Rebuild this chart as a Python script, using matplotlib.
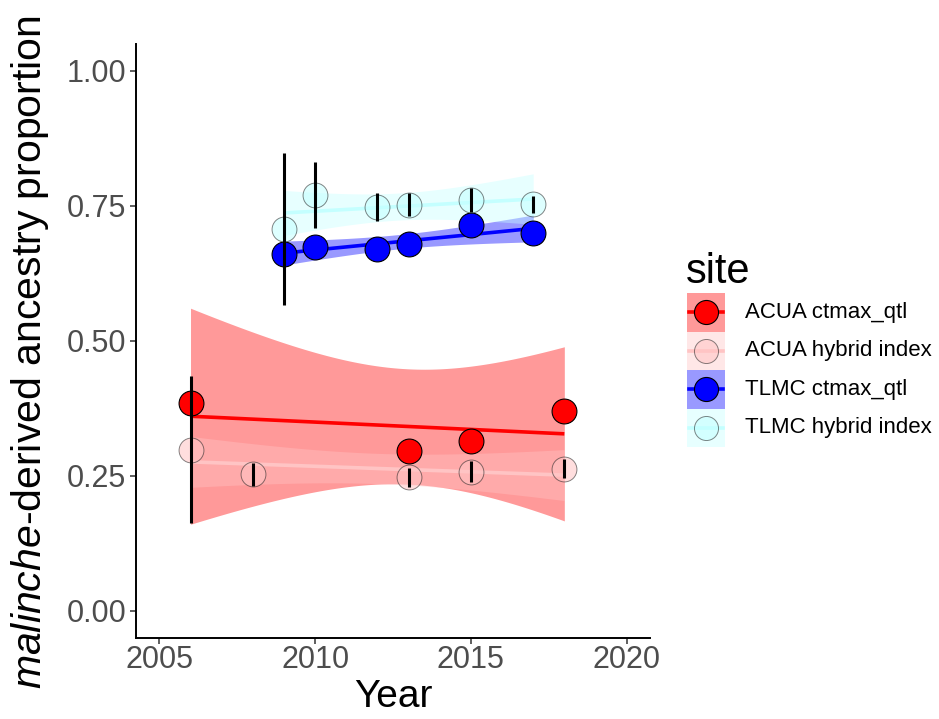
import numpy as np
import matplotlib
matplotlib.use("Agg")
import matplotlib.pyplot as plt
from matplotlib.patches import Rectangle

plt.rcParams['font.family'] = ['Liberation Sans', 'DejaVu Sans']
plt.rcParams['mathtext.fontset'] = 'custom'
plt.rcParams['mathtext.rm'] = 'Liberation Sans'
plt.rcParams['mathtext.it'] = 'Liberation Sans:italic'

# data
acua_years = [2006, 2013, 2015, 2018]
acua_ctmax = [0.384, 0.296, 0.313, 0.370]

acua_hyb_years = [2006, 2008, 2013, 2015, 2018]
acua_hyb = [0.297, 0.252, 0.247, 0.257, 0.262]
acua_hyb_lo = [0.162, 0.231, 0.229, 0.238, 0.245]
acua_hyb_hi = [0.435, 0.273, 0.264, 0.277, 0.280]

tlmc_years = [2009, 2010, 2012, 2013, 2015, 2017]
tlmc_ctmax = [0.661, 0.674, 0.669, 0.679, 0.714, 0.700]
tlmc_hyb = [0.706, 0.770, 0.748, 0.751, 0.760, 0.753]
tlmc_hyb_lo = [0.565, 0.708, 0.722, 0.731, 0.738, 0.737]
tlmc_hyb_hi = [0.847, 0.831, 0.774, 0.773, 0.782, 0.768]

site_labels = ["ACUA ctmax_qtl", "ACUA hybrid index", "TLMC ctmax_qtl", "TLMC hybrid index"]
site_colors = ["#FF0000", "#FFC4C4", "#0000FF", "#C4FFFF"]

# t quantiles (0.975) for lm confidence band
t975 = {2: 4.303, 3: 3.182, 4: 2.776}


def lm_band(x, y):
    x = np.asarray(x, float)
    y = np.asarray(y, float)
    n = len(x)
    b, a = np.polyfit(x, y, 1)
    resid = y - (a + b * x)
    s = np.sqrt(np.sum(resid ** 2) / (n - 2))
    sxx = np.sum((x - x.mean()) ** 2)
    xg = np.linspace(x.min(), x.max(), 100)
    yg = a + b * xg
    se = s * np.sqrt(1.0 / n + (xg - x.mean()) ** 2 / sxx)
    t = t975[n - 2]
    return xg, yg, yg - t * se, yg + t * se


W, H = 939, 719
fig = plt.figure(figsize=(W / 100, H / 100), dpi=100)
ax = fig.add_axes([136 / W, 1 - 637.5 / H, (650 - 136) / W, (637.5 - 43.5) / H])

groups = [
    (acua_years, acua_ctmax),
    (acua_hyb_years, acua_hyb),
    (tlmc_years, tlmc_ctmax),
    (tlmc_years, tlmc_hyb),
]

# ribbons
for (xs, ys), col in zip(groups, site_colors):
    xg, yg, lo, hi = lm_band(xs, ys)
    ax.fill_between(xg, lo, hi, color=col, alpha=0.4, lw=0, zorder=1)
# fitted lines
for (xs, ys), col in zip(groups, site_colors):
    xg, yg, lo, hi = lm_band(xs, ys)
    ax.plot(xg, yg, color=col, lw=2.6, zorder=2, solid_capstyle='butt')

# points
ax.scatter(acua_years, acua_ctmax, s=320, c=site_colors[0], edgecolors='black', linewidths=0.8, zorder=3)
ax.scatter(tlmc_years, tlmc_ctmax, s=320, c=site_colors[2], edgecolors='black', linewidths=0.8, zorder=3)
ax.scatter(acua_hyb_years, acua_hyb, s=320, c=site_colors[1], alpha=0.55, edgecolors='#222222', linewidths=0.7, zorder=4)
ax.scatter(tlmc_years, tlmc_hyb, s=320, c=site_colors[3], alpha=0.55, edgecolors='#222222', linewidths=0.7, zorder=4)

# error bars on hybrid index
ax.vlines(acua_hyb_years, acua_hyb_lo, acua_hyb_hi, color='black', lw=2.2, zorder=5)
ax.vlines(tlmc_years, tlmc_hyb_lo, tlmc_hyb_hi, color='black', lw=2.2, zorder=5)

ax.set_xlim(2004.25, 2020.75)
ax.set_ylim(-0.05, 1.05)
ax.set_xticks([2005, 2010, 2015, 2020])
ax.set_yticks([0, 0.25, 0.5, 0.75, 1.0])
ax.set_yticklabels(["0.00", "0.25", "0.50", "0.75", "1.00"])
ax.tick_params(labelsize=22, labelcolor='#4D4D4D', color='#333333', length=4, width=1.1)
ax.tick_params(axis='x', pad=1.5)
ax.tick_params(axis='y', pad=3)
for side in ['top', 'right']:
    ax.spines[side].set_visible(False)
for side in ['left', 'bottom']:
    ax.spines[side].set_linewidth(1.4)

fig.text(393 / W, 1 - 707 / H, "Year", ha='center', va='baseline', fontsize=28)
fig.text(30 / W, 1 - 352 / H, r"$\it{malinche}$-derived ancestry proportion",
         rotation=90, ha='center', va='center', fontsize=29.5)

# legend drawn by hand
lax = fig.add_axes([0, 0, 1, 1], facecolor='none')
lax.set_xlim(0, W)
lax.set_ylim(H, 0)
lax.axis('off')
lax.text(686, 283, "site", fontsize=30, ha='left', va='baseline')
key_w, key_h = 38, 38.5
y0 = 293
for i, (lab, col) in enumerate(zip(site_labels, site_colors)):
    top = y0 + i * key_h
    cy = top + key_h / 2
    lax.add_patch(Rectangle((687, top), key_w, key_h, facecolor=col, alpha=0.4, lw=0))
    lax.plot([687 + 2, 687 + key_w - 2], [cy, cy], color=col, lw=2.6)
    if i % 2 == 0:
        lax.scatter([687 + key_w / 2], [cy], s=300, c=col, edgecolors='black', linewidths=0.8, zorder=3)
    else:
        lax.scatter([687 + key_w / 2], [cy], s=300, c=col, alpha=0.55, edgecolors='#222222', linewidths=0.7, zorder=3)
    lax.text(745, cy, lab, fontsize=16, ha='left', va='center')

fig.savefig("out.png", dpi=100)
